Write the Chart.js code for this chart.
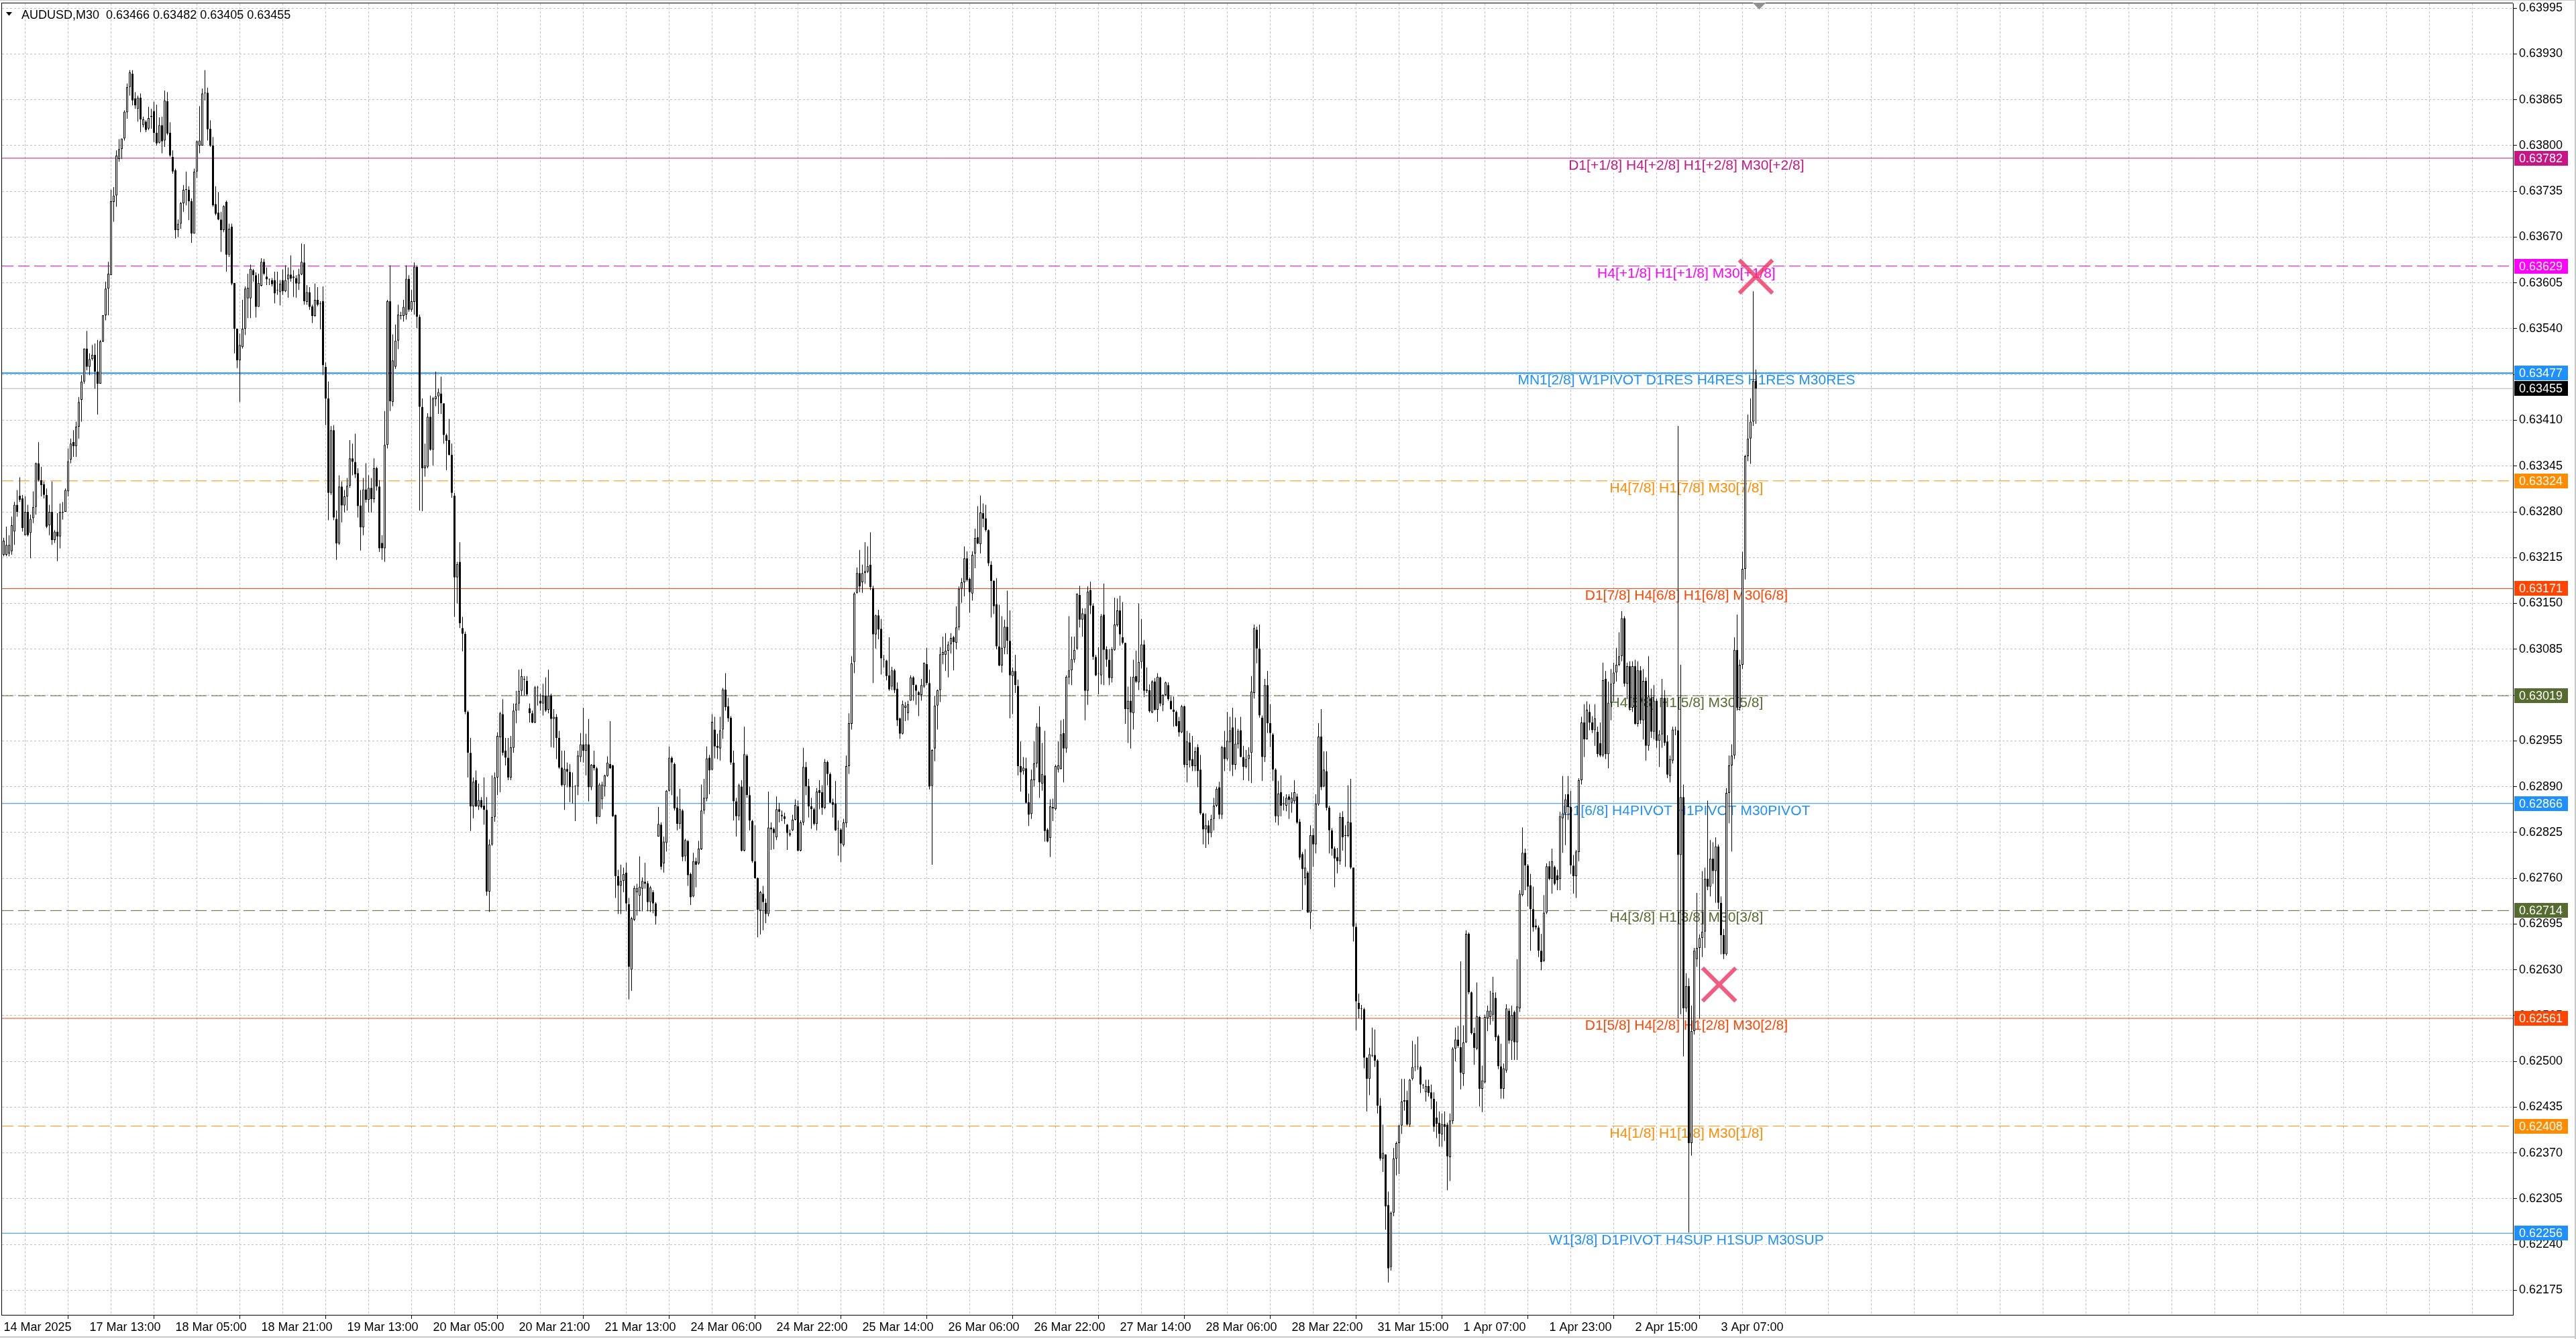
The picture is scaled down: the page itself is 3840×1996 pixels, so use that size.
<!DOCTYPE html>
<html>
<head>
<meta charset="utf-8">
<title>AUDUSD,M30</title>
<style>
  html, body { margin: 0; padding: 0; background: #fff; overflow: hidden; }
  canvas { display: block; }
</style>
<script src="https://cdn.jsdelivr.net/npm/chart.js@4.4.1/dist/chart.umd.min.js"></script>
</head>
<body>
<canvas id="chart" width="3840" height="1996"></canvas>
<script>
// prices below are in points (0.00001) above BASE
const BASE = 0.6;

const OPEN = [
3219,3219,3221,3224,3252,3290,3303,3299,3247,3280,
3250,3271,3287,3349,3325,3319,3304,3261,3280,3240,
3252,3245,3279,3280,3309,3354,3379,3373,3401,3439,
3465,3512,3486,3497,3503,3479,3462,3522,3559,3597,
3616,3720,3729,3781,3795,3810,3847,3883,3902,3867,
3852,3868,3829,3834,3824,3841,3849,3818,3804,3829,
3807,3863,3818,3784,3765,3680,3689,3718,3737,3737,
3721,3675,3763,3800,3800,3874,3875,3824,3800,3717,
3705,3695,3680,3720,3645,3685,3605,3540,3495,3514,
3540,3583,3583,3623,3616,3571,3601,3635,3614,3610,
3609,3609,3594,3592,3609,3593,3610,3617,3612,3612,
3604,3617,3634,3578,3592,3572,3558,3581,3576,3579,
3486,3441,3307,3396,3270,3235,3316,3289,3302,3317,
3356,3351,3335,3289,3258,3312,3297,3314,3298,3342,
3316,3236,3228,3375,3579,3436,3486,3523,3558,3558,
3560,3611,3567,3578,3628,3557,3429,3342,3344,3415,
3368,3440,3444,3448,3434,3389,3382,3361,3303,3187,
3209,3115,3107,2996,2938,2862,2899,2862,2871,2863,
2857,2741,2808,2847,2903,2960,2993,2941,2931,2903,
2945,2998,3008,3026,3042,3040,3001,2994,2981,3030,
3012,3008,3019,2999,3019,2986,2989,2959,2917,2892,
2915,2911,2889,2890,2890,2932,2950,2941,2950,2889,
2921,2916,2847,2872,2890,2905,2922,2920,2850,2763,
2749,2756,2768,2723,2630,2701,2740,2735,2745,2755,
2753,2726,2740,2724,2819,2836,2781,2810,2884,2931,
2922,2860,2837,2856,2791,2813,2766,2734,2784,2781,
2801,2856,2873,2931,2914,2971,2948,2944,2971,3028,
3004,2988,2924,2869,2848,2890,2799,2934,2878,2841,
2784,2760,2714,2738,2725,2709,2832,2830,2818,2858,
2848,2848,2836,2821,2828,2843,2862,2799,2839,2918,
2891,2862,2858,2837,2885,2882,2860,2925,2908,2868,
2866,2830,2829,2807,2838,2919,2979,3067,3165,3193,
3180,3193,3195,3205,3172,3106,3133,3114,3071,3069,
3048,3032,3055,3029,2987,2965,3002,2994,3012,3045,
3034,3024,3020,3032,3064,3037,2891,2944,3005,3027,
3077,3077,3083,3092,3102,3094,3116,3171,3180,3214,
3185,3164,3221,3244,3234,3278,3271,3254,3205,3182,
3149,3089,3062,3087,3117,3097,3047,3054,3033,2919,
2912,2916,2868,2851,2899,2923,2975,2894,2906,2829,
2817,2861,2858,2914,2915,2966,2944,3045,3055,3070,
3086,3162,3127,3135,3026,3169,3147,3074,3050,3048,
3134,3085,3070,3044,3084,3119,3140,3102,3094,3000,
3012,2994,3047,3038,3067,3092,3026,3027,2995,3039,
2999,3045,3006,3020,3034,3012,2999,2996,2983,2967,
3004,2921,2953,2929,2919,2946,2914,2852,2829,2835,
2824,2844,2863,2889,2850,2946,2929,2953,2974,2921,
2950,2970,2932,2918,2929,2938,3023,3113,3086,2988,
2932,3034,2980,2964,2914,2848,2882,2866,2863,2876,
2867,2869,2876,2840,2794,2760,2768,2711,2821,2808,
2865,2961,2890,2912,2860,2828,2802,2790,2784,2847,
2821,2820,2839,2775,2691,2583,2574,2574,2505,2475,
2508,2509,2501,2437,2362,2368,2296,2208,2285,2362,
2384,2409,2443,2445,2410,2475,2492,2492,2492,2467,
2456,2465,2456,2447,2420,2413,2396,2411,2410,2364,
2415,2518,2531,2520,2482,2527,2681,2598,2540,2518,
2563,2461,2470,2561,2563,2566,2590,2536,2493,2461,
2487,2572,2529,2570,2527,2575,2736,2796,2778,2750,
2716,2693,2690,2657,2643,2711,2777,2759,2776,2764,
2759,2845,2852,2879,2861,2778,2763,2797,2899,2981,
2957,2996,2981,2970,2968,2952,2934,3043,2936,3009,
3036,3052,3063,3075,3129,3036,3061,3002,3061,2979,
3055,2984,3040,2948,3016,2968,3012,2955,2964,3016,
2954,2905,2927,2971,2970,2793,2875,2575,2607,2384,
2543,2645,2661,2675,2684,2759,2748,2788,2770,2805,
2725,2679,2652,2881,2920,2934,3084,3002,3063,3199,
3359,3384,3408,3466
];

const HIGH = [
3243,3259,3247,3273,3294,3311,3329,3304,3302,3290,
3276,3309,3350,3379,3344,3323,3313,3290,3323,3254,
3278,3292,3294,3313,3370,3384,3396,3408,3443,3474,
3512,3537,3505,3517,3519,3524,3524,3559,3607,3635,
3737,3741,3793,3809,3810,3850,3888,3907,3907,3876,
3871,3874,3841,3836,3855,3852,3862,3858,3840,3841,
3878,3876,3833,3793,3767,3695,3720,3744,3763,3742,
3725,3767,3807,3856,3881,3907,3882,3836,3812,3742,
3734,3706,3715,3722,3689,3689,3605,3540,3533,3581,
3600,3618,3631,3625,3620,3618,3640,3639,3627,3611,
3612,3621,3621,3609,3624,3630,3627,3644,3623,3616,
3625,3661,3660,3602,3599,3574,3604,3599,3579,3600,
3492,3465,3402,3403,3282,3332,3323,3311,3328,3382,
3377,3391,3342,3311,3328,3349,3332,3328,3356,3344,
3325,3247,3423,3581,3630,3532,3546,3574,3564,3581,
3630,3616,3595,3634,3630,3560,3441,3377,3420,3445,
3443,3479,3455,3472,3434,3391,3412,3377,3307,3209,
3237,3131,3110,2998,2959,2903,2913,2894,2875,2903,
2875,2815,2906,2910,2967,2996,3014,2959,2959,2962,
3008,3026,3056,3057,3047,3047,3008,2998,3033,3033,
3022,3036,3045,3056,3022,3000,2993,2969,2941,2941,
2924,2922,2910,2892,2941,2966,3002,2965,2986,2922,
2941,2918,2895,2897,2907,2933,2983,2921,2850,2772,
2779,2775,2782,2732,2705,2749,2752,2791,2761,2782,
2756,2749,2743,2726,2861,2839,2819,2885,2947,2933,
2924,2876,2887,2858,2816,2814,2768,2796,2789,2813,
2893,2901,2947,2935,2993,2989,2965,2989,3030,3051,
3016,2990,2941,2874,2894,2899,2975,2936,2890,2843,
2835,2761,2742,2749,2731,2883,2839,2832,2876,2867,
2856,2853,2837,2829,2850,2872,2870,2842,2945,2925,
2901,2874,2860,2888,2899,2892,2929,2927,2910,2873,
2898,2842,2831,2844,2934,2994,3075,3166,3201,3226,
3205,3237,3231,3251,3175,3134,3141,3128,3077,3070,
3102,3060,3057,3038,2988,3012,3010,3012,3048,3047,
3035,3026,3043,3066,3087,3056,2943,3019,3028,3088,
3103,3108,3096,3108,3104,3146,3174,3186,3231,3224,
3187,3224,3256,3288,3303,3292,3290,3255,3210,3183,
3186,3148,3132,3127,3168,3140,3059,3077,3042,2954,
2932,2931,2880,2914,2954,2980,3004,2952,2969,2831,
2872,2873,2921,2954,2984,2986,3048,3132,3103,3103,
3164,3175,3143,3143,3174,3181,3150,3077,3088,3135,
3178,3089,3085,3088,3158,3157,3161,3152,3094,3032,
3046,3070,3083,3150,3128,3098,3059,3035,3041,3044,
3051,3046,3021,3039,3038,3018,3018,2998,2989,3006,
3005,2969,2966,2962,2946,2950,2935,2853,2852,2842,
2850,2874,2890,2897,2948,2969,2996,2989,3002,2988,
2972,2989,2948,2942,2946,3047,3120,3117,3120,2991,
3043,3054,3007,2966,2916,2898,2906,2876,2879,2879,
2882,2899,2880,2844,2797,2801,2770,2835,2831,2879,
2980,3000,2940,2940,2863,2831,2805,2803,2853,2855,
2835,2892,2901,2775,2696,2596,2580,2576,2506,2519,
2548,2545,2503,2448,2410,2368,2315,2287,2377,2386,
2410,2475,2475,2458,2475,2529,2524,2535,2494,2468,
2474,2474,2467,2456,2443,2429,2426,2429,2413,2426,
2520,2548,2550,2642,2551,2686,2683,2599,2548,2612,
2564,2494,2566,2579,2600,2620,2598,2538,2525,2497,
2581,2575,2579,2572,2645,2743,2832,2802,2780,2766,
2748,2702,2693,2681,2736,2781,2784,2802,2778,2772,
2854,2905,2879,2905,2884,2793,2800,2902,2989,3007,
3011,3007,2990,3007,2975,2981,3066,3054,3039,3057,
3066,3087,3109,3139,3132,3066,3068,3068,3070,3068,
3061,3057,3045,3075,3029,3034,3015,2970,3043,3027,
2963,2934,2975,2975,3402,3063,2893,2625,2618,2579,
2661,2739,2680,2770,2775,2870,2814,2811,2818,2808,
2734,2688,2888,2934,2950,3102,3134,3070,3223,3361,
3418,3441,3593,3482
];

const LOW = [
3217,3217,3217,3219,3233,3273,3294,3252,3247,3245,
3214,3264,3276,3323,3302,3299,3257,3247,3233,3236,
3210,3228,3269,3280,3302,3349,3358,3358,3384,3408,
3462,3481,3474,3495,3455,3418,3462,3521,3552,3559,
3616,3692,3713,3777,3781,3807,3838,3871,3857,3852,
3834,3819,3826,3819,3822,3824,3805,3800,3803,3789,
3798,3815,3784,3760,3668,3670,3682,3706,3715,3694,
3662,3675,3754,3789,3800,3864,3807,3798,3713,3701,
3694,3649,3677,3621,3642,3602,3505,3484,3436,3512,
3531,3555,3555,3607,3556,3571,3600,3616,3602,3602,
3600,3576,3588,3573,3588,3592,3584,3607,3585,3584,
3595,3616,3574,3574,3567,3548,3557,3572,3539,3474,
3403,3268,3304,3268,3212,3233,3265,3279,3282,3314,
3332,3328,3272,3225,3247,3293,3279,3279,3293,3310,
3223,3212,3209,3370,3423,3430,3483,3511,3553,3550,
3553,3564,3564,3560,3541,3282,3281,3330,3342,3367,
3346,3430,3419,3419,3377,3339,3360,3300,3131,3150,
3115,3082,2993,2903,2827,2845,2861,2857,2859,2836,
2735,2712,2806,2840,2878,2882,2934,2920,2899,2899,
2938,2980,2998,3019,3019,3019,2981,2980,2980,3005,
2998,2991,2996,2994,2946,2945,2929,2915,2890,2857,
2889,2868,2866,2841,2878,2925,2924,2906,2869,2885,
2913,2837,2847,2858,2876,2904,2915,2847,2732,2709,
2709,2740,2713,2588,2600,2699,2707,2713,2713,2745,
2713,2712,2710,2694,2819,2772,2768,2798,2883,2878,
2856,2828,2830,2784,2784,2749,2722,2733,2747,2779,
2800,2851,2869,2879,2913,2930,2929,2927,2958,2998,
2982,2921,2842,2819,2842,2798,2798,2874,2828,2782,
2759,2676,2680,2686,2696,2706,2800,2801,2814,2839,
2841,2837,2800,2819,2827,2842,2798,2798,2835,2878,
2846,2830,2835,2828,2858,2850,2858,2892,2867,2846,
2827,2792,2783,2805,2832,2908,2971,3051,3164,3166,
3165,3178,3193,3169,3037,3086,3099,3049,3059,3041,
3026,3027,3023,2976,2958,2964,2983,2984,3012,3012,
3006,2990,3012,3030,3034,2886,2779,2926,2971,3010,
3064,3054,3045,3079,3055,3085,3112,3151,3160,3181,
3137,3154,3200,3234,3221,3258,3252,3203,3130,3135,
3085,3061,3052,3078,3078,2987,2993,3023,2906,2883,
2907,2866,2834,2844,2890,2917,2874,2884,2812,2811,
2790,2841,2856,2910,2914,2896,2938,3035,3034,3066,
3084,3116,3103,2984,3006,3135,3070,3047,3021,3035,
3034,3060,3034,3038,3083,3117,3090,3092,2979,2952,
2944,2971,3037,3027,3058,3017,3023,2995,2994,2998,
2982,3004,2997,3019,3012,2999,2975,2975,2961,2966,
2917,2896,2917,2912,2912,2889,2850,2808,2803,2808,
2818,2828,2861,2844,2844,2912,2927,2912,2905,2914,
2944,2932,2899,2916,2898,2895,3015,3065,2988,2898,
2925,2966,2946,2898,2839,2835,2848,2856,2855,2844,
2853,2866,2837,2786,2715,2750,2711,2688,2776,2795,
2863,2885,2889,2856,2795,2792,2747,2767,2779,2799,
2776,2818,2773,2670,2544,2561,2559,2490,2429,2452,
2506,2492,2426,2359,2343,2261,2186,2203,2280,2338,
2340,2397,2430,2409,2407,2473,2486,2488,2455,2461,
2443,2450,2432,2400,2391,2379,2379,2387,2317,2330,
2411,2500,2519,2460,2465,2526,2595,2538,2495,2516,
2436,2428,2469,2543,2552,2557,2529,2489,2447,2447,
2484,2525,2502,2502,2502,2570,2734,2743,2720,2657,
2684,2687,2648,2629,2641,2709,2757,2738,2750,2743,
2743,2796,2807,2843,2766,2738,2732,2784,2893,2932,
2957,2970,2966,2948,2932,2932,2932,2929,2916,2984,
3011,3039,3061,3068,3032,3014,2998,2996,2978,2975,
2979,2957,2927,2941,2959,2957,2945,2918,2945,2948,
2902,2896,2923,2963,2561,2567,2507,2570,2257,2366,
2538,2634,2561,2648,2661,2743,2734,2752,2725,2716,
2652,2645,2650,2838,2798,2929,2998,2998,3057,3184,
3352,3348,3402,3405
];

const CLOSE = [
3239,3233,3233,3261,3290,3280,3297,3257,3280,3247,
3270,3287,3349,3325,3318,3304,3259,3280,3240,3252,
3245,3280,3280,3311,3352,3377,3373,3401,3436,3465,
3512,3486,3497,3503,3479,3462,3522,3559,3597,3618,
3721,3729,3786,3795,3810,3848,3883,3904,3864,3857,
3868,3837,3837,3822,3839,3842,3818,3803,3829,3806,
3864,3817,3786,3763,3680,3689,3718,3737,3738,3721,
3675,3763,3806,3807,3874,3874,3823,3800,3715,3703,
3695,3680,3714,3645,3682,3604,3540,3495,3517,3540,
3597,3598,3625,3616,3571,3605,3635,3618,3610,3610,
3603,3590,3594,3604,3593,3609,3617,3611,3614,3604,
3617,3635,3579,3592,3571,3558,3581,3574,3575,3488,
3441,3307,3396,3272,3235,3316,3289,3302,3317,3356,
3351,3333,3288,3258,3312,3297,3314,3298,3342,3316,
3228,3228,3375,3579,3437,3495,3523,3560,3558,3571,
3611,3567,3579,3628,3557,3429,3342,3346,3415,3368,
3441,3444,3450,3434,3389,3381,3361,3307,3187,3206,
3122,3107,2996,2938,2862,2897,2862,2871,2861,2857,
2741,2808,2847,2903,2962,2994,2938,2931,2903,2946,
2998,3008,3026,3047,3042,3021,2994,2981,3031,3031,
3008,3019,2998,3019,2986,2989,2959,2917,2892,2915,
2911,2889,2890,2890,2934,2950,2941,2950,2889,2921,
2916,2847,2893,2893,2906,2924,2916,2848,2763,2749,
2756,2766,2724,2634,2703,2746,2746,2748,2756,2752,
2726,2747,2724,2706,2837,2776,2812,2884,2931,2924,
2859,2837,2858,2790,2814,2764,2733,2784,2779,2802,
2856,2874,2930,2913,2982,2947,2945,2970,3028,3003,
2987,2924,2869,2848,2892,2799,2936,2878,2842,2784,
2760,2715,2740,2726,2709,2832,2829,2824,2858,2854,
2850,2844,2824,2824,2843,2864,2799,2839,2918,2890,
2862,2858,2837,2883,2881,2860,2925,2908,2867,2864,
2828,2830,2809,2839,2919,2980,3065,3164,3193,3174,
3193,3196,3203,3173,3106,3133,3113,3072,3070,3047,
3028,3055,3027,2984,2965,3007,3005,3007,3045,3034,
3026,3020,3034,3066,3037,2890,2942,3005,3027,3078,
3081,3083,3092,3101,3095,3116,3171,3180,3214,3183,
3166,3219,3243,3235,3279,3270,3254,3207,3182,3146,
3089,3062,3087,3117,3097,3048,3054,3034,2919,2910,
2917,2867,2850,2900,2923,2975,2896,2908,2827,2812,
2862,2859,2919,2920,2964,2944,3046,3055,3071,3084,
3164,3127,3136,3026,3167,3147,3074,3048,3050,3132,
3084,3070,3044,3085,3120,3140,3106,3094,3000,3012,
2995,3046,3039,3067,3092,3026,3028,2997,3039,2999,
3046,3008,3020,3038,3014,3000,2996,2976,2967,3004,
2921,2954,2927,2919,2940,2912,2852,2829,2835,2824,
2844,2863,2887,2850,2946,2929,2955,2970,2921,2951,
2969,2932,2918,2929,2935,3025,3115,3086,2991,2932,
3034,2980,2966,2914,2848,2880,2863,2865,2874,2871,
2874,2882,2839,2789,2773,2775,2711,2821,2808,2866,
2961,2889,2914,2860,2828,2802,2788,2784,2847,2818,
2820,2840,2775,2691,2585,2574,2574,2505,2475,2510,
2509,2501,2437,2362,2370,2294,2206,2285,2362,2384,
2409,2443,2445,2410,2474,2492,2492,2492,2467,2466,
2465,2455,2447,2407,2411,2397,2411,2407,2365,2416,
2518,2531,2522,2484,2527,2681,2598,2540,2519,2564,
2461,2473,2563,2572,2572,2597,2534,2493,2461,2490,
2575,2529,2566,2527,2578,2738,2796,2778,2748,2716,
2690,2690,2657,2641,2711,2777,2759,2784,2752,2757,
2848,2852,2872,2861,2778,2763,2798,2899,2981,2957,
2999,2981,2970,2987,2936,2934,3041,2936,3009,3036,
3052,3063,3075,3129,3036,3061,3002,3061,2979,3055,
2984,3040,2948,3018,2968,3012,2955,2964,3016,2952,
2907,2929,2971,2970,2793,2875,2575,2607,2384,2543,
2657,2661,2675,2684,2759,2748,2788,2770,2805,2725,
2679,2652,2881,2920,2934,3084,3002,3063,3199,3359,
3384,3408,3466,3455
];

// bottom time scale: one label every 32 bars, starting at bar 0
const TIME_LABELS = [
  '14 Mar 2025', '17 Mar 13:00', '18 Mar 05:00', '18 Mar 21:00', '19 Mar 13:00',
  '20 Mar 05:00', '20 Mar 21:00', '21 Mar 13:00', '24 Mar 06:00', '24 Mar 22:00',
  '25 Mar 14:00', '26 Mar 06:00', '26 Mar 22:00', '27 Mar 14:00', '28 Mar 06:00',
  '28 Mar 22:00', '31 Mar 15:00', '1 Apr 07:00', '1 Apr 23:00', '2 Apr 15:00',
  '3 Apr 07:00'
];

const PRICE_TICKS = [
  0.63995, 0.63930, 0.63865, 0.63800, 0.63735, 0.63670, 0.63605, 0.63540, 0.63475, 0.63410,
  0.63345, 0.63280, 0.63215, 0.63150, 0.63085, 0.63020, 0.62955, 0.62890, 0.62825, 0.62760,
  0.62695, 0.62630, 0.62565, 0.62500, 0.62435, 0.62370, 0.62305, 0.62240, 0.62175
];

const LEVEL_PRICES = [
  0.63782, 0.63629, 0.63477, 0.63324, 0.63171, 0.63019,
  0.62866, 0.62714, 0.62561, 0.62408, 0.62256
];
const LEVEL_NAMES = [
  'D1[+1/8] H4[+2/8] H1[+2/8] M30[+2/8]',
  'H4[+1/8] H1[+1/8] M30[+1/8]',
  'MN1[2/8] W1PIVOT D1RES H4RES H1RES M30RES',
  'H4[7/8] H1[7/8] M30[7/8]',
  'D1[7/8] H4[6/8] H1[6/8] M30[6/8]',
  'H4[5/8] H1[5/8] M30[5/8]',
  'D1[6/8] H4PIVOT H1PIVOT M30PIVOT',
  'H4[3/8] H1[3/8] M30[3/8]',
  'D1[5/8] H4[2/8] H1[2/8] M30[2/8]',
  'H4[1/8] H1[1/8] M30[1/8]',
  'W1[3/8] D1PIVOT H4SUP H1SUP M30SUP'
];

const MARKER_BARS = [639.3, 653];
const MARKER_PRICES = [0.62609, 0.63614];

const SYMBOL = 'AUDUSD,M30';

// ---- styles / layout ----
const DASH = [17, 7];
const LEVEL_STYLE = [
  { color: '#C71585', dash: [], width: 1 },
  { color: '#FF00FF', dash: DASH, width: 1 },
  { color: '#1E90FF', dash: [], width: 2 },
  { color: '#FF8C00', dash: DASH, width: 1 },
  { color: '#FF4500', dash: [], width: 1 },
  { color: '#556B2F', dash: DASH, width: 1 },
  { color: '#1E90FF', dash: [], width: 1 },
  { color: '#556B2F', dash: DASH, width: 1 },
  { color: '#FF4500', dash: [], width: 1 },
  { color: '#FF8C00', dash: DASH, width: 1 },
  { color: '#1E90FF', dash: [], width: 1 }
];
const FONT = '"Liberation Sans", Arial, sans-serif';
const X_MIN = -0.625, X_MAX = 935.125;
const Y_MIN = 0.621401, Y_MAX = 0.6400186;
const LABEL_BAR = 627.1;      // level captions are centred on this bar
const SHIFT_BAR = 654.25;     // little chart-shift marker on the top edge

const price = p => BASE + p / 100000;
const fmt = p => price(p).toFixed(5);

const bodies = [], wicks = [], bodyFill = [];
for (let i = 0; i < CLOSE.length; i++) {
  bodies.push({ x: i, y: [price(OPEN[i]), price(CLOSE[i])] });
  wicks.push({ x: i, y: [price(LOW[i]), price(HIGH[i])] });
  bodyFill.push(CLOSE[i] >= OPEN[i] ? '#FFFFFF' : '#000000');
}
const last = CLOSE.length - 1;
const bid = price(CLOSE[last]);

const levelSets = LEVEL_PRICES.map((p, i) => ({
  type: 'line',
  data: [{ x: X_MIN, y: p }, { x: X_MAX, y: p }],
  borderColor: LEVEL_STYLE[i].color,
  borderWidth: LEVEL_STYLE[i].width,
  borderDash: LEVEL_STYLE[i].dash,
  pointRadius: 0,
  fill: false,
  order: 3
}));

const mtDecor = {
  id: 'mtDecor',
  beforeDraw(chart) {
    const ctx = chart.ctx;
    ctx.save();
    ctx.fillStyle = '#FFFFFF';
    ctx.fillRect(0, 0, chart.width, chart.height);
    ctx.restore();
  },
  beforeDatasetsDraw(chart) {
    const { ctx, scales: { x, y } } = chart;
    const lx = x.getPixelForValue(LABEL_BAR);
    ctx.save();
    ctx.font = '21px ' + FONT;
    ctx.textAlign = 'center';
    ctx.textBaseline = 'alphabetic';
    LEVEL_PRICES.forEach((p, i) => {
      ctx.fillStyle = LEVEL_STYLE[i].color;
      ctx.fillText(LEVEL_NAMES[i], lx, y.getPixelForValue(p) + 17);
    });
    ctx.restore();
  },
  afterDraw(chart) {
    const { ctx, chartArea: a, scales: { x, y } } = chart;
    ctx.save();
    // window edge
    ctx.fillStyle = '#C8C8C8';
    ctx.fillRect(0, 0, chart.width, 1);
    ctx.fillRect(chart.width - 2, 0, 2, chart.height);
    ctx.fillRect(0, chart.height - 4, chart.width, 2);

    // plot frame (left and top; right/bottom come from the axes)
    ctx.fillStyle = '#000';
    ctx.fillRect(a.left - 1, a.top - 1, 1, a.bottom - a.top + 2);
    ctx.fillRect(a.left - 1, a.top - 1, a.right - a.left + 1, 1);

    // price tags on the right scale
    const tag = (p, bg) => {
      const py = Math.round(y.getPixelForValue(p));
      ctx.fillStyle = bg;
      ctx.fillRect(a.right + 2, py - 11, 80, 22);
      ctx.fillStyle = '#FFFFFF';
      ctx.font = '18px ' + FONT;
      ctx.textAlign = 'left';
      ctx.textBaseline = 'middle';
      ctx.fillText(p.toFixed(5), a.right + 9, py + 1);
    };
    LEVEL_PRICES.forEach((p, i) => tag(p, LEVEL_STYLE[i].color));
    tag(bid, '#000000');

    // header
    ctx.fillStyle = '#000';
    ctx.beginPath();
    ctx.moveTo(9, 18); ctx.lineTo(18, 18); ctx.lineTo(13.5, 23.5);
    ctx.closePath(); ctx.fill();
    ctx.font = '18px ' + FONT;
    ctx.textAlign = 'left';
    ctx.textBaseline = 'alphabetic';
    ctx.fillText(SYMBOL + '  ' + fmt(OPEN[last]) + ' ' + fmt(HIGH[last]) + ' ' +
                 fmt(LOW[last]) + ' ' + fmt(CLOSE[last]), 32, 27.5);

    // chart shift marker
    const sx = x.getPixelForValue(SHIFT_BAR);
    ctx.fillStyle = '#909090';
    ctx.beginPath();
    ctx.moveTo(sx - 10, a.top - 1); ctx.lineTo(sx + 10, a.top - 1); ctx.lineTo(sx, a.top + 9);
    ctx.closePath(); ctx.fill();
    ctx.restore();
  }
};

new Chart(document.getElementById('chart').getContext('2d'), {
  type: 'bar',
  data: {
    datasets: [
      {
        label: 'bodies',
        data: bodies,
        backgroundColor: bodyFill,
        borderColor: '#000000',
        borderWidth: 1,
        borderSkipped: false,
        barThickness: 3,
        minBarLength: 1,
        inflateAmount: 0,
        grouped: false,
        order: 1
      },
      {
        label: 'wicks',
        data: wicks,
        backgroundColor: '#000000',
        borderWidth: 0,
        barThickness: 1,
        inflateAmount: 0,
        grouped: false,
        order: 2
      },
      ...levelSets,
      {
        type: 'line',
        label: 'bid',
        data: [{ x: X_MIN, y: bid }, { x: X_MAX, y: bid }],
        borderColor: '#B4B4B4',
        borderWidth: 1,
        pointRadius: 0,
        fill: false,
        order: 3
      },
      {
        type: 'line',
        label: 'marks',
        data: MARKER_BARS.map((b, i) => ({ x: b, y: MARKER_PRICES[i] })),
        showLine: false,
        pointStyle: 'crossRot',
        pointRadius: 35,
        pointBorderWidth: 6,
        pointBorderColor: 'rgba(236, 52, 98, 0.8)',
        pointBackgroundColor: 'rgba(0,0,0,0)',
        order: 0
      }
    ]
  },
  options: {
    responsive: false,
    animation: false,
    devicePixelRatio: 1,
    events: [],
    layout: { autoPadding: false, padding: { left: 3, top: 5, right: 0, bottom: 0 } },
    plugins: { legend: { display: false }, tooltip: { enabled: false } },
    scales: {
      x: {
        type: 'linear',
        min: X_MIN,
        max: X_MAX,
        offset: false,
        afterBuildTicks: s => {
          const t = [];
          for (let v = 0; v < X_MAX; v += 16) t.push({ value: v });
          s.ticks = t;
        },
        afterFit: s => { s.height = 36; s.paddingLeft = 0; s.paddingRight = 0; },
        ticks: {
          autoSkip: false, maxRotation: 0, minRotation: 0, align: 'start', padding: 2,
          color: '#000', font: { family: FONT, size: 18 },
          callback: v => (v % 32 === 0 && TIME_LABELS[v / 32]) || ''
        },
        grid: {
          color: '#C0C0C0', lineWidth: 1, tickLength: 6, tickWidth: 1,
          tickColor: c => (c.tick && c.tick.value % 32 === 0 && TIME_LABELS[c.tick.value / 32]) ? '#000' : 'rgba(0,0,0,0)'
        },
        border: { color: '#000', width: 1, dash: [3, 3] }
      },
      y: {
        position: 'right',
        min: Y_MIN,
        max: Y_MAX,
        afterBuildTicks: s => { s.ticks = PRICE_TICKS.map(v => ({ value: v })); },
        afterFit: s => { s.width = 94; s.paddingTop = 0; s.paddingBottom = 0; },
        ticks: {
          autoSkip: false, padding: 3, color: '#000', font: { family: FONT, size: 18 },
          callback: v => v.toFixed(5)
        },
        grid: { color: '#C0C0C0', lineWidth: 1, tickLength: 6, tickColor: '#000' },
        border: { color: '#000', width: 1, dash: [3, 3] }
      }
    }
  },
  plugins: [mtDecor]
});
</script>
</body>
</html>
